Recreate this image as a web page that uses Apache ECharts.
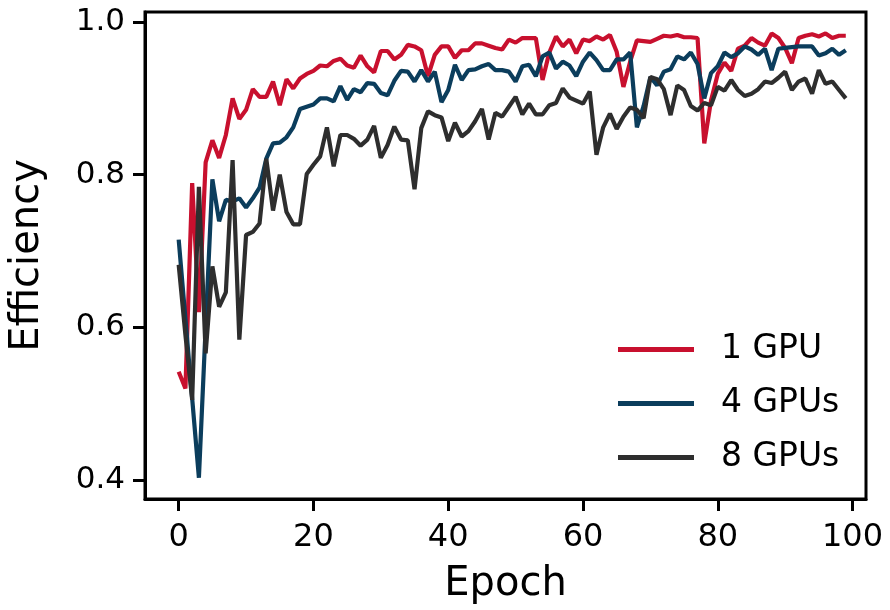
<!DOCTYPE html>
<html>
<head>
<meta charset="utf-8">
<script src="https://cdn.jsdelivr.net/npm/echarts@6/dist/echarts.min.js"></script>
<style>html,body{margin:0;padding:0;background:#fff}#c{width:890px;height:610px}</style>
</head>
<body>
<div id="c"></div>
<script>
var xTicks = [0, 20, 40, 60, 80, 100];
var yTicks = [0.4, 0.6, 0.8, 1.0];
var seriesNames = ['1 GPU', '4 GPUs', '8 GPUs'];

var gpu1 = [0.542,0.520,0.789,0.620,0.816,0.845,0.822,0.852,0.900,0.873,
0.885,0.912,0.902,0.902,0.922,0.891,0.925,0.913,0.926,0.932,
0.936,0.943,0.942,0.949,0.952,0.943,0.940,0.956,0.942,0.934,
0.962,0.962,0.951,0.957,0.970,0.968,0.963,0.929,0.957,0.968,
0.968,0.953,0.963,0.963,0.972,0.972,0.969,0.966,0.964,0.977,
0.973,0.979,0.979,0.979,0.924,0.960,0.981,0.968,0.977,0.959,
0.977,0.975,0.981,0.977,0.983,0.961,0.915,0.948,0.976,0.975,
0.974,0.978,0.982,0.981,0.983,0.980,0.980,0.979,0.841,0.897,
0.932,0.947,0.936,0.965,0.969,0.979,0.973,0.969,0.985,0.979,
0.966,0.946,0.979,0.982,0.984,0.981,0.985,0.979,0.982,0.982];

var gpu4 = [0.715,0.611,0.507,0.403,0.600,0.794,0.739,0.767,0.765,0.769,
0.757,0.769,0.783,0.821,0.841,0.842,0.849,0.862,0.886,0.889,
0.892,0.900,0.900,0.896,0.916,0.898,0.912,0.908,0.920,0.919,
0.907,0.904,0.923,0.936,0.935,0.922,0.937,0.922,0.935,0.895,
0.911,0.944,0.924,0.937,0.938,0.942,0.945,0.937,0.937,0.935,
0.922,0.942,0.944,0.929,0.955,0.960,0.939,0.948,0.943,0.929,
0.948,0.960,0.950,0.937,0.937,0.951,0.951,0.960,0.862,0.890,
0.928,0.917,0.935,0.938,0.955,0.951,0.960,0.945,0.900,0.933,
0.942,0.960,0.954,0.959,0.968,0.964,0.957,0.965,0.937,0.965,
0.966,0.967,0.968,0.968,0.968,0.956,0.959,0.965,0.957,0.963];

var gpu8 = [0.682,0.590,0.505,0.784,0.566,0.680,0.627,0.646,0.819,0.584,
0.721,0.725,0.736,0.821,0.753,0.800,0.751,0.735,0.735,0.801,
0.813,0.824,0.862,0.811,0.852,0.852,0.847,0.838,0.846,0.864,
0.822,0.839,0.863,0.846,0.845,0.781,0.861,0.883,0.878,0.875,
0.844,0.868,0.850,0.857,0.870,0.886,0.846,0.881,0.876,0.889,
0.902,0.879,0.893,0.879,0.879,0.891,0.894,0.913,0.901,0.897,
0.893,0.909,0.826,0.862,0.880,0.860,0.876,0.888,0.885,0.874,
0.928,0.925,0.912,0.878,0.917,0.911,0.890,0.884,0.894,0.891,
0.915,0.910,0.924,0.911,0.903,0.906,0.912,0.922,0.920,0.927,
0.935,0.911,0.922,0.926,0.906,0.937,0.919,0.922,0.911,0.900];

var colors = ['#C8102E', '#0B3D5C', '#2E2E2E'];

function pairs(arr) { return arr.map(function (v, i) { return [i, v]; }); }

var font = 'DejaVu Sans';
var chart = echarts.init(document.getElementById('c'), null, { renderer: 'canvas' });
chart.setOption({
  animation: false,
  backgroundColor: '#fff',
  grid: { left: 143, top: 12, right: 24, bottom: 110, show: true, borderColor: '#000', borderWidth: 3, backgroundColor: 'transparent', containLabel: false },
  legend: {
    data: seriesNames,
    orient: 'vertical',
    left: 613, top: 328,
    icon: 'rect',
    itemWidth: 76, itemHeight: 5,
    itemGap: 21,
    textStyle: { fontFamily: font, fontSize: 33, color: '#000', lineHeight: 30, padding: [0, 0, 0, 22] }
  },
  xAxis: {
    type: 'value', min: -5, max: 102,
    name: 'Epoch', nameLocation: 'middle', nameGap: 66,
    nameTextStyle: { fontFamily: font, fontSize: 40, color: '#000' },
    axisLine: { show: true, onZero: false, lineStyle: { color: '#000', width: 3 } },
    axisTick: { show: true, customValues: xTicks, length: 12, lineStyle: { color: '#000', width: 3 } },
    axisLabel: { customValues: xTicks, margin: 23, fontFamily: font, fontSize: 32, color: '#000' },
    splitLine: { show: false }
  },
  yAxis: {
    type: 'value', min: 0.3752, max: 1.0131,
    name: 'Efficiency', nameLocation: 'middle', nameGap: 97,
    nameTextStyle: { fontFamily: font, fontSize: 40, color: '#000' },
    axisLine: { show: true, onZero: false, lineStyle: { color: '#000', width: 3 } },
    axisTick: { show: true, customValues: yTicks, length: 12, lineStyle: { color: '#000', width: 3 } },
    axisLabel: { customValues: yTicks, margin: 20, fontFamily: font, fontSize: 31, color: '#000',
      formatter: function (v) { return v.toFixed(1); } },
    splitLine: { show: false }
  },
  series: [
    { name: seriesNames[0], type: 'line', data: pairs(gpu1), showSymbol: false, symbol: 'none', z: 3,
      lineStyle: { color: colors[0], width: 4.2 }, itemStyle: { color: colors[0] } },
    { name: seriesNames[1], type: 'line', data: pairs(gpu4), showSymbol: false, symbol: 'none', z: 4,
      lineStyle: { color: colors[1], width: 4.2 }, itemStyle: { color: colors[1] } },
    { name: seriesNames[2], type: 'line', data: pairs(gpu8), showSymbol: false, symbol: 'none', z: 5,
      lineStyle: { color: colors[2], width: 4.2 }, itemStyle: { color: colors[2] } }
  ]
});
</script>
</body>
</html>
